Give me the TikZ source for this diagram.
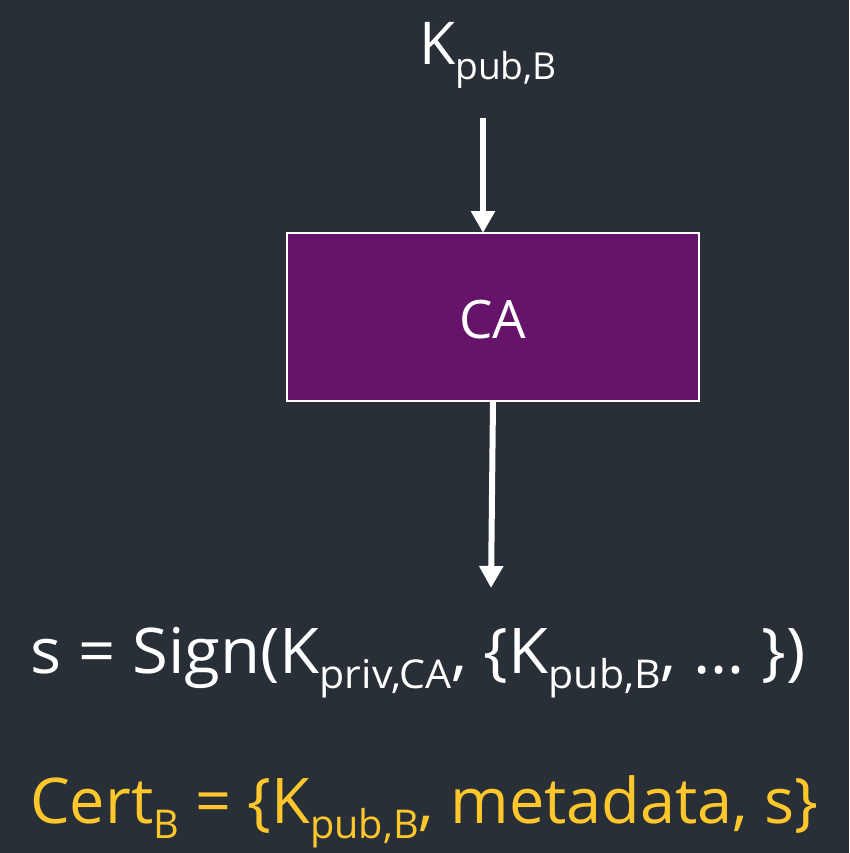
\documentclass[tikz,border=0pt]{standalone}
\usepackage{fontspec}
\setmainfont{Open Sans}
\usetikzlibrary{arrows.meta}
\definecolor{bgc}{HTML}{282F37}
\definecolor{cap}{HTML}{66146A}
\definecolor{certc}{HTML}{FFC72C}
\newcommand\sbs[1]{\raisebox{-0.24em}{\scalebox{0.63}{#1}}}
\tikzset{
  txt/.style={text=white, inner sep=0pt, anchor=base},
  flow/.style={draw=white, line width=6pt, -{Triangle[width=23pt,length=22pt]}},
  cabox/.style={draw=white, line width=1.5pt, fill=cap, minimum width=412pt, minimum height=168pt, inner sep=0pt}
}
\begin{document}
\begin{tikzpicture}[x=1pt,y=-1pt]
\fill[bgc] (0,0) rectangle (849,853);
\useasboundingbox (0,0) rectangle (849,853);
\node[txt, font=\fontsize{59}{60}\selectfont] (kpub) at (488,65) {K\sbs{pub,B}};
\coordinate (kin) at (483,118);
\node[cabox] (ca) at (493,317) {};
\node[txt, font=\fontsize{53}{55}\selectfont] (calbl) at (493,338) {CA};
\node[txt, anchor=base west, font=\fontsize{63}{65}\selectfont] (sign) at (30,673) {\scalebox{1.035}[1]{s = Sign(K\sbs{priv,CA}, \{K\sbs{pub,B}, … \})}};
\node[txt, anchor=base west, text=certc, font=\fontsize{63}{65}\selectfont] (cert) at (30,823) {Cert\sbs{B} = \{K\sbs{pub,B}, metadata, s\}};
\coordinate (sout) at (491,588);
\draw[flow] (kin) -- (483,233);
\draw[flow] (493,401) -- (sout);
\end{tikzpicture}
\end{document}
